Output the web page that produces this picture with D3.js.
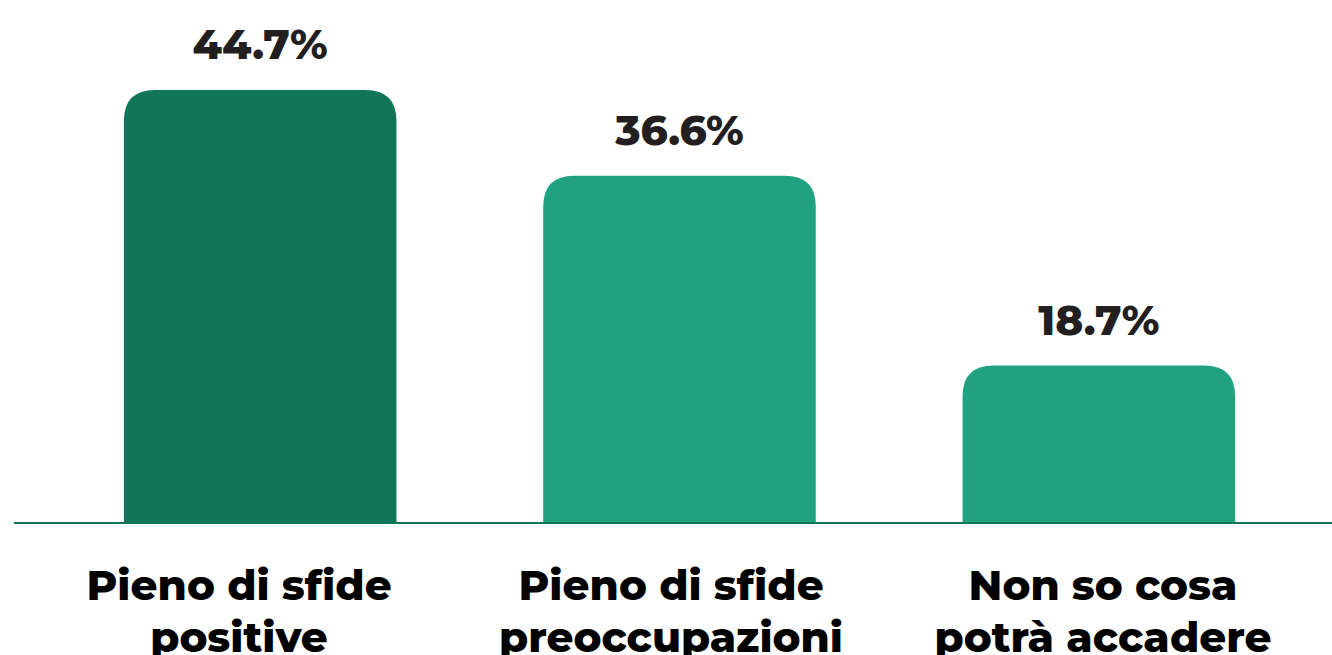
<!DOCTYPE html>
<html>
<head>
<meta charset="utf-8">
<script src="https://cdn.jsdelivr.net/npm/d3@7"></script>
<style>
  html, body { margin: 0; padding: 0; background: #fff; }
  svg { display: block; }
</style>
</head>
<body>
<div id="chart"></div>
<script>
const categories = [
  ['Pieno di sfide', 'positive'],
  ['Pieno di sfide', 'preoccupazioni'],
  ['Non so cosa', 'potrà accadere']
];
const values = [44.7, 36.6, 18.7];
const valueLabels = ['44.7%', '36.6%', '18.7%'];
const barColors = ['#117558', '#20a281', '#20a281'];

const width = 1332;
const height = 655;
const baseY = 523;
const fontStack = 'Montserrat, "Open Sans", Lato, sans-serif';

const svg = d3.select('#chart').append('svg')
  .attr('width', width)
  .attr('height', height);

const x = d3.scaleBand()
  .domain(d3.range(values.length))
  .range([40, 1319])
  .paddingInner(0.35)
  .paddingOuter(0.2);

// category text sits on its own, slightly wider spacing than the bars
const xLabel = d3.scalePoint()
  .domain(d3.range(values.length))
  .range([239, 1103]);

const y = d3.scaleLinear()
  .domain([3.85, 44.7])
  .range([baseY, 90]);

const r = 31;
function barPath(x0, w, top, bottom) {
  const rr = Math.min(r, (bottom - top), w / 2);
  return `M${x0},${bottom}V${top + rr}Q${x0},${top} ${x0 + rr},${top}` +
    `H${x0 + w - rr}Q${x0 + w},${top} ${x0 + w},${top + rr}V${bottom}Z`;
}

svg.append('g')
  .selectAll('path')
  .data(values)
  .enter().append('path')
  .attr('d', (d, i) => barPath(x(i), x.bandwidth(), y(d), baseY))
  .attr('fill', (d, i) => barColors[i]);

// baseline
svg.append('line')
  .attr('x1', 14)
  .attr('x2', width)
  .attr('y1', baseY)
  .attr('y2', baseY)
  .attr('stroke', '#117558')
  .attr('stroke-width', 2);

// value labels
svg.append('g')
  .selectAll('text')
  .data(values)
  .enter().append('text')
  .attr('x', (d, i) => x(i) + x.bandwidth() / 2)
  .attr('y', d => y(d) - 31)
  .attr('text-anchor', 'middle')
  .attr('font-family', fontStack)
  .attr('font-weight', 800)
  .attr('font-size', 42)
  .attr('fill', '#231f20')
  .text((d, i) => valueLabels[i]);

// category labels
const cat = svg.append('g')
  .selectAll('text')
  .data(categories)
  .enter().append('text')
  .attr('x', (d, i) => xLabel(i))
  .attr('y', 600)
  .attr('text-anchor', 'middle')
  .attr('font-family', fontStack)
  .attr('font-weight', 800)
  .attr('font-size', 42)
  .attr('fill', '#000');

cat.selectAll('tspan')
  .data(d => d)
  .enter().append('tspan')
  .attr('x', function() { return this.parentNode.getAttribute('x'); })
  .attr('dy', (d, j) => j === 0 ? 0 : 52)
  .text(d => d);
</script>
</body>
</html>
